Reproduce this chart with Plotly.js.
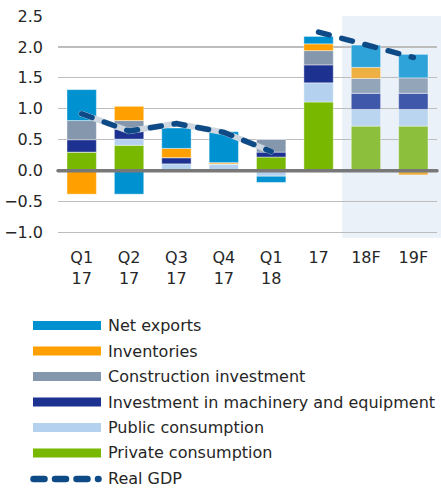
<!DOCTYPE html>
<html><head><meta charset="utf-8">
<script src="https://cdn.plot.ly/plotly-3.0.1.min.js"></script>
<style>
html,body{margin:0;padding:0;background:#fff;}
#chart{width:441px;height:488px;}
.scatterlayer .js-line{stroke-linecap:round;}
.shapelayer path{stroke-linecap:round;}
</style>
</head><body><div id="chart"></div>
<script>
// ---- data ----
const categories = ['Q1 17','Q2 17','Q3 17','Q4 17','Q1 18','17','18F','19F'];
const tickLabels = ['Q1<br>17','Q2<br>17','Q3<br>17','Q4<br>17','Q1<br>18','17','18F','19F'];
const privateConsumption = [0.30, 0.41, 0.00, 0.00, 0.22, 1.11, 0.72, 0.72];
const publicConsumption  = [0.00, 0.10, 0.11, 0.11, -0.09, 0.31, 0.27, 0.27];
const machineryInvest    = [0.20, 0.16, 0.10, 0.00, 0.08, 0.29, 0.26, 0.26];
const constructionInvest = [0.31, 0.14, 0.00, 0.00, 0.21, 0.23, 0.24, 0.25];
const inventories        = [-0.38, 0.23, 0.15, 0.02, 0.00, 0.11, 0.18, -0.07];
const netExports         = [0.50, -0.38, 0.33, 0.50, -0.10, 0.12, 0.36, 0.38];
const realGDP            = [0.92, 0.64, 0.76, 0.62, 0.31, 2.24, 2.04, 1.83];
const seriesNames = ['Net exports','Inventories','Construction investment','Investment in machinery and equipment','Public consumption','Private consumption','Real GDP'];

// ---- styles ----
const colActual = {
  net:'#0092D0', inv:'#FFA000', con:'#8497AD', mach:'#1D3190', pub:'#B4D2EF', priv:'#78B800'
};
const colFcst = {
  net:'#2DA3D9', inv:'#EEB042', con:'#93A5B9', mach:'#3F58AA', pub:'#B9D5EF', priv:'#8BBF3C'
};
const nF = 2; // last two categories are forecasts
function cols(k){ return categories.map((c,i)=> i >= categories.length-nF ? colFcst[k] : colActual[k]); }

const FONT = 'DejaVu Sans, Arial, sans-serif';
const TXT = '#262626';

function bar(name, y, k){
  return {type:'bar', name:name, x:categories, y:y, width:0.62,
    marker:{color:cols(k), line:{width:0.6, color:'rgba(255,255,255,0.7)'}},
    showlegend:false, hoverinfo:'x+y+name'};
}
const traces = [
  bar(seriesNames[5], privateConsumption, 'priv'),
  bar(seriesNames[4], publicConsumption, 'pub'),
  bar(seriesNames[3], machineryInvest, 'mach'),
  bar(seriesNames[2], constructionInvest, 'con'),
  bar(seriesNames[1], inventories, 'inv'),
  bar(seriesNames[0], netExports, 'net'),
  {type:'scatter', mode:'lines', x:categories.slice(0,5), y:realGDP.slice(0,5), showlegend:false, hoverinfo:'skip',
    line:{color:'#CED7DF', width:6}},
  {type:'scatter', mode:'lines', name:seriesNames[6], x:categories.slice(0,5), y:realGDP.slice(0,5), showlegend:false,
    line:{color:'#0D4A86', width:5.5, dash:'11px,13px'}},
  {type:'scatter', mode:'lines', name:seriesNames[6], x:categories.slice(5), y:realGDP.slice(5), showlegend:false,
    line:{color:'#0D4A86', width:5.5, dash:'11px,13px'}}
];

// layout geometry (pixels)
const W = 441, H = 488, mL = 58, mR = 4, mT = 16, mB = 253;
const plotW = W - mL - mR, plotH = H - mT - mB;
const px = v => (v - mL) / plotW;
const py = v => (H - mB - v) / plotH;

const legendKeys = [
  {name:seriesNames[0], color:colActual.net, y:325.5},
  {name:seriesNames[1], color:colActual.inv, y:351},
  {name:seriesNames[2], color:colActual.con, y:376.5},
  {name:seriesNames[3], color:colActual.mach, y:402},
  {name:seriesNames[4], color:colActual.pub, y:427.5},
  {name:seriesNames[5], color:colActual.priv, y:453},
  {name:seriesNames[6], color:'#0D4A86', y:479, dashed:true}
];

const shapes = [
  {type:'rect', layer:'below', xref:'paper', yref:'paper',
   x0:(5.5+0.5)/categories.length, x1:1.02, y0:-0.012, y1:1.0,
   fillcolor:'#EAF1F9', line:{width:0}},
  {type:'line', layer:'above', xref:'paper', yref:'y', x0:0, x1:1, y0:0, y1:0,
   line:{color:'#787878', width:3.5}}
];
const annotations = [];
legendKeys.forEach(k => {
  if (k.dashed) {
    shapes.push({type:'line', xref:'paper', yref:'paper', x0:px(33.5), x1:px(98.5), y0:py(k.y), y1:py(k.y),
      line:{color:k.color, width:6.5, dash:'11px,10.5px'}});
  } else {
    shapes.push({type:'rect', xref:'paper', yref:'paper', x0:px(33), x1:px(101), y0:py(k.y+4.5), y1:py(k.y-4.5),
      fillcolor:k.color, line:{width:0}});
  }
  annotations.push({xref:'paper', yref:'paper', x:px(106), y:py(k.y), xanchor:'left', yanchor:'middle',
    showarrow:false, text:k.name, font:{family:FONT, size:16, color:TXT}});
});

const layout = {
  width:W, height:H,
  margin:{l:mL, r:mR, t:mT, b:mB, pad:0},
  paper_bgcolor:'#ffffff', plot_bgcolor:'rgba(0,0,0,0)',
  barmode:'relative', bargap:0.38,
  showlegend:false,
  font:{family:FONT, size:16, color:TXT},
  xaxis:{type:'category', range:[-0.5, 7.5], tickvals:categories, ticktext:tickLabels,
    showgrid:false, zeroline:false, showline:false, ticks:'', ticklabelstandoff:11,
    tickfont:{family:FONT, size:16, color:TXT}},
  yaxis:{range:[-1.04, 2.5], tickvals:[-1,-0.5,0,0.5,1,1.5,2,2.5], tickformat:'.1f',
    showgrid:true, gridcolor:'#BDBDBD', gridwidth:1.2, zeroline:false, showline:false, ticks:'',
    ticklabelstandoff:14, tickfont:{family:FONT, size:16, color:TXT}},
  shapes:shapes, annotations:annotations
};

Plotly.newPlot('chart', traces, layout, {displayModeBar:false, staticPlot:true});
</script>
</body></html>
